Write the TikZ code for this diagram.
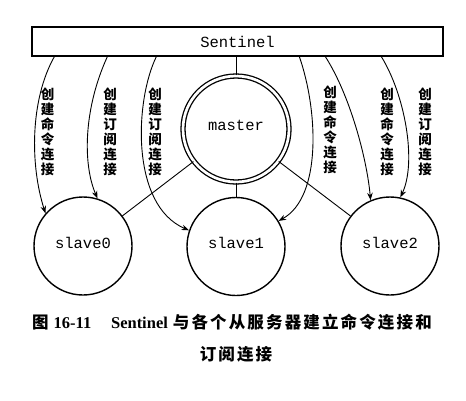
\documentclass[tikz,border=0pt]{standalone}
\usepackage{fontspec}
\usetikzlibrary{arrows.meta,calc}
\setmonofont{Liberation Mono}
\newfontfamily\cjk{Noto Sans CJK SC}
\newfontfamily\cjkcap[LetterSpace=13]{Noto Sans CJK SC}
\newfontfamily\capserif{Liberation Serif}
\begin{document}
\begin{tikzpicture}[x=1pt,y=-1pt,
  conn/.style={line width=0.9pt,-{Stealth[length=7.5pt,width=5.5pt]}},
  link/.style={line width=0.9pt},
  slavec/.style={circle,draw,line width=1.4pt,minimum size=98pt,inner sep=0pt},
  mono/.style={font=\ttfamily\fontsize{15.5}{18}\selectfont,inner sep=0pt},
  vlabel/.style={font=\cjk\bfseries\fontsize{13.5}{15}\selectfont,align=center,inner sep=0pt},
  capfont/.style={font=\fontsize{16.5}{20}\selectfont\bfseries,inner sep=0pt}]
\useasboundingbox (0,0) rectangle (466,400);
% Sentinel box
\node[draw,line width=1.3pt,minimum width=411pt,minimum height=29pt,inner sep=0pt,mono] (sentinel) at (237.5,41.5) {Sentinel};
% master
\node[circle,draw,line width=1.3pt,double,double distance=2.7pt,minimum size=106pt,inner sep=0pt] (master) at (236,129) {};
\node[mono] (mastert) at (236,125.5) {master};
% slaves
\node[slavec] (slave0) at (83,246) {};
\node[slavec] (slave1) at (236,246.5) {};
\node[slavec] (slave2) at (390,246) {};
\node[mono] (slave0t) at (83,242.5) {slave0};
\node[mono] (slave1t) at (236,242.5) {slave1};
\node[mono] (slave2t) at (390,242.5) {slave2};
% links
\draw[link] (master.north) -- (master.north |- sentinel.south);
\draw[link] (master) -- (slave0);
\draw[link] (master) -- (slave1);
\draw[link] (master) -- (slave2);
% start points on the Sentinel box
\coordinate (c1) at ($(sentinel.south west)+(23,0)$);
\coordinate (c2) at ($(sentinel.south west)+(76,0)$);
\coordinate (c3) at ($(sentinel.south west)+(125,0)$);
\coordinate (c4) at ($(sentinel.south west)+(268,0)$);
\coordinate (c5) at ($(sentinel.south west)+(294,0)$);
\coordinate (c6) at ($(sentinel.south west)+(350,0)$);
\draw[conn] (c1) .. controls (30,100) and (30,165) .. (slave0.139);
\draw[conn] (c2) .. controls (83,110) and (83,165) .. (slave0.73);
\draw[conn] (c3) .. controls (135,100) and (130,205) .. (slave1.161);
\draw[conn] (c4) .. controls (318,110) and (322,197) .. (slave1.31);
\draw[conn] (c5) .. controls (350,95) and (367,159) .. (slave2.113);
\draw[conn] (c6) .. controls (405,95) and (417,162) .. (slave2.78);
% labels
\node[vlabel] (l1) at (47.5,132) {创\\建\\命\\令\\连\\接};
\node[vlabel] (l2) at (110,132) {创\\建\\订\\阅\\连\\接};
\node[vlabel] (l3) at (155,132) {创\\建\\订\\阅\\连\\接};
\node[vlabel] (l4) at (330,130) {创\\建\\命\\令\\连\\接};
\node[vlabel] (l5) at (387,132) {创\\建\\命\\令\\连\\接};
\node[vlabel] (l6) at (425,132) {创\\建\\订\\阅\\连\\接};
% caption
\node[capfont,anchor=west] (cap1a) at (32,322.5) {\cjk 图\hspace{5pt}\capserif 16-11};
\node[capfont,anchor=east] (cap1b) at (432,322.5) {\capserif Sentinel\hspace{5pt}\cjkcap 与各个从服务器建立命令连接和};
\node[capfont] (cap2) at (236,354.5) {\cjkcap 订阅连接};
\end{tikzpicture}
\end{document}
